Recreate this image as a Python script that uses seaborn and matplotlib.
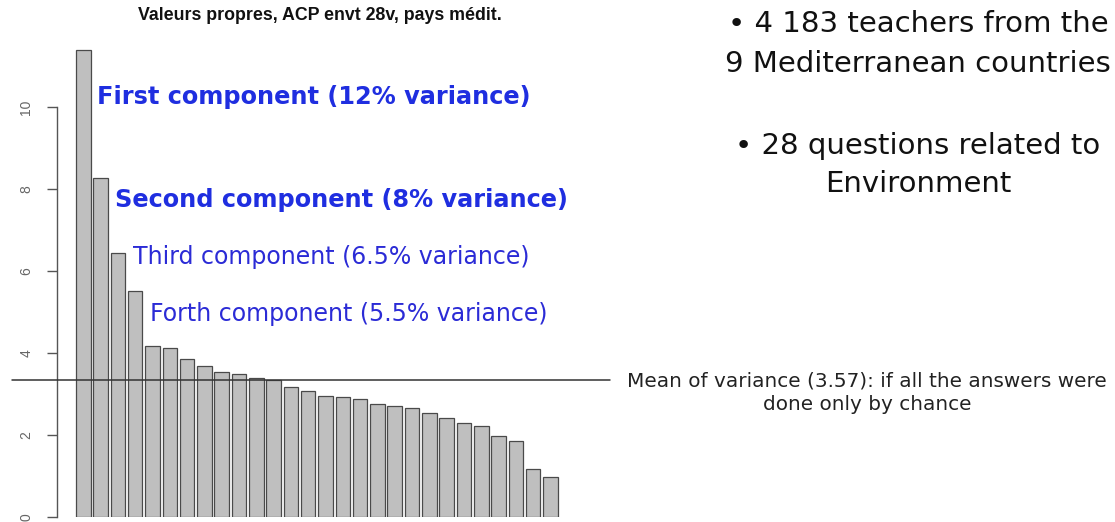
import numpy as np
import pandas as pd
import matplotlib
matplotlib.use("Agg")
import matplotlib.pyplot as plt
import seaborn as sns

# eigenvalues (percent of variance)
components = list(range(1, 29))
eigenvalues = [11.4, 8.28, 6.45, 5.51, 4.18, 4.11, 3.85, 3.69, 3.54, 3.50,
               3.39, 3.34, 3.17, 3.08, 2.96, 2.92, 2.88, 2.75, 2.71, 2.66,
               2.53, 2.42, 2.29, 2.22, 1.98, 1.86, 1.16, 0.98]
mean_line = 3.35
y_ticks = [0, 2, 4, 6, 8, 10]

title = "Valeurs propres, ACP envt 28v, pays médit."
notes = [
    ("First component (12% variance)", "bold"),
    ("Second component (8% variance)", "bold"),
    ("Third component (6.5% variance)", "normal"),
    ("Forth component (5.5% variance)", "normal"),
]
bullet_1 = "• 4 183 teachers from the\n9 Mediterranean countries"
bullet_2 = "• 28 questions related to\nEnvironment"
mean_text = "Mean of variance (3.57): if all the answers were\ndone only by chance"

df = pd.DataFrame({"component": components, "eigenvalue": eigenvalues})

sns.set_style("white")
plt.rcParams['font.family'] = ['DejaVu Sans']

W, H = 1115, 522
fig = plt.figure(figsize=(W / 100, H / 100), dpi=100)

# axes placed in pixel terms: spine at x=57, y=0 at 517
left_px, right_px, bottom_px, top_px = 57, 570, 517, 41
ax = fig.add_axes([left_px / W, (H - bottom_px) / H,
                   (right_px - left_px) / W, (bottom_px - top_px) / H])

sns.barplot(data=df, x="component", y="eigenvalue", color="#bfbfbf",
            saturation=1, width=0.84, edgecolor="#4a4a4a", linewidth=0.9, ax=ax)

ax.set_xlim(-1.52, 28.13)
ax.set_ylim(0, (bottom_px - top_px) / 41.0)
ax.set_xticks([])
ax.set_xlabel("")
ax.set_ylabel("")
ax.set_yticks(y_ticks)
ax.set_yticklabels([str(t) for t in y_ticks], rotation=90, va="center",
                   color="#666666", fontsize=10, family="Liberation Sans")
ax.tick_params(axis="y", length=7, width=1, color="#555555", pad=10, left=True)
for s in ["top", "right", "bottom"]:
    ax.spines[s].set_visible(False)
ax.spines["left"].set_bounds(0, 10)
ax.spines["left"].set_color("#555555")
ax.spines["left"].set_linewidth(1)

# mean line, running outside the plot area
ax.axhline(mean_line, xmin=-0.088, xmax=1.078, color="#333333", lw=1.1,
           clip_on=False, zorder=5)

def fx(px):
    return px / W

def fy(py):
    return 1 - py / H

fig.text(fx(320), fy(16), title, ha="center", va="center", fontsize=12.8,
         fontweight="bold", family="Liberation Sans", color="#111111")

note_pos = [(97, 97), (115, 200), (133, 257), (150, 314)]
for (txt, wt), (x, y) in zip(notes, note_pos):
    fig.text(fx(x), fy(y), txt, ha="left", va="center", fontsize=17.3 if wt == "bold" else 17,
             fontweight=wt, color="#1f2ee0" if wt == "bold" else "#2b2bd6")

fig.text(fx(918), fy(44), bullet_1, ha="center", va="center", fontsize=21,
         color="#111111", linespacing=1.5)
fig.text(fx(918), fy(165), bullet_2, ha="center", va="center", fontsize=21,
         color="#111111", linespacing=1.5)
fig.text(fx(867), fy(393), mean_text, ha="center", va="center", fontsize=14.4,
         color="#222222", linespacing=1.3)

fig.savefig("out.png", dpi=100)
